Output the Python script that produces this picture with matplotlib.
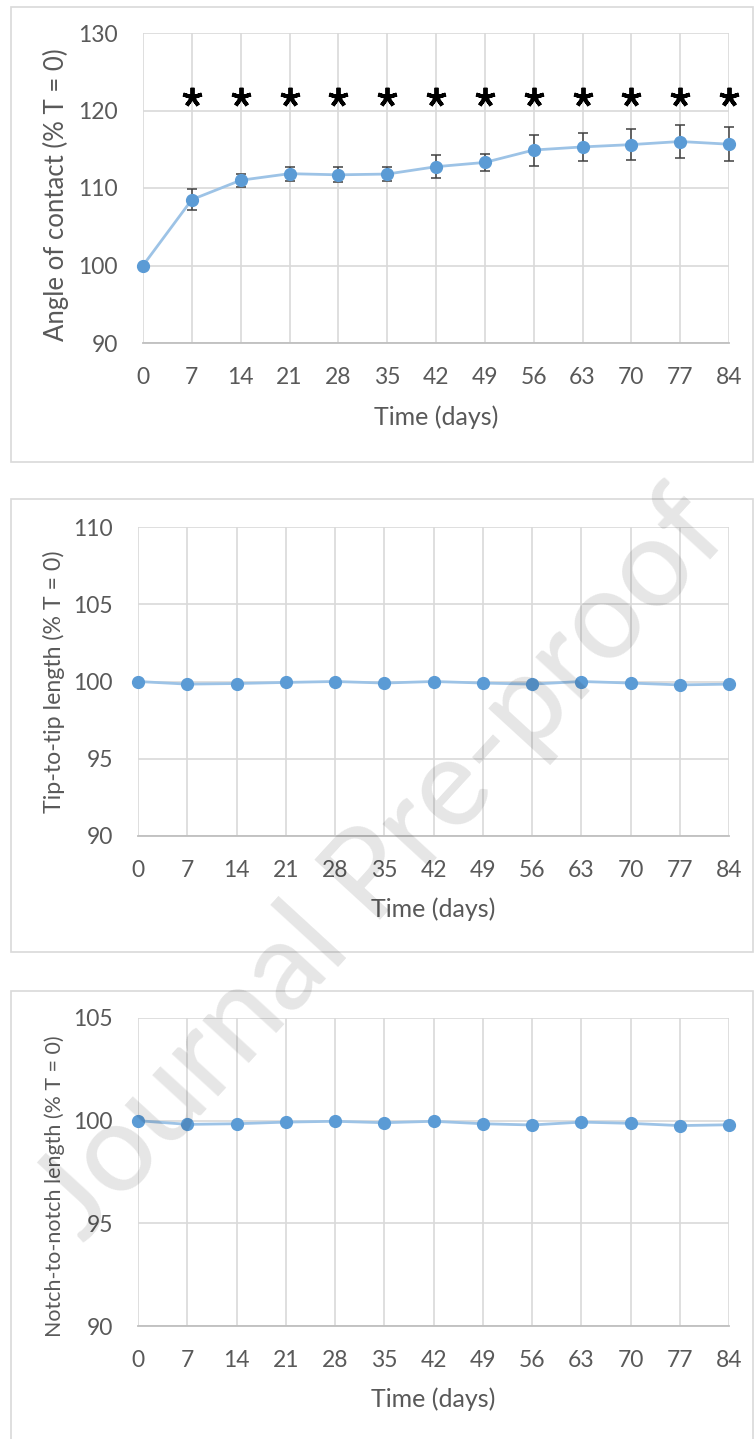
import matplotlib
matplotlib.use("Agg")
import matplotlib.pyplot as plt
from matplotlib.patches import Rectangle

plt.rcParams['font.family'] = ['Lato', 'DejaVu Sans']

days = [0, 7, 14, 21, 28, 35, 42, 49, 56, 63, 70, 77, 84]

angle = [100, 108.5, 111.0, 111.85, 111.7, 111.8, 112.75, 113.3, 114.9, 115.3, 115.6, 116.0, 115.65]
angle_err = [0, 1.35, 0.85, 0.9, 0.95, 0.9, 1.45, 1.15, 2.0, 1.85, 2.0, 2.1, 2.2]
signif_days = [7, 14, 21, 28, 35, 42, 49, 56, 63, 70, 77, 84]
signif_y = 121.8

tip = [100, 99.83, 99.87, 99.94, 100.0, 99.9, 100.0, 99.9, 99.83, 100.0, 99.9, 99.78, 99.83]
tip_err = [0, 0.05, 0.05, 0.05, 0.05, 0.05, 0.05, 0.05, 0.05, 0.05, 0.05, 0.05, 0.05]

notch = [100, 99.82, 99.85, 99.93, 99.97, 99.9, 99.97, 99.85, 99.79, 99.93, 99.87, 99.76, 99.8]
notch_err = [0, 0.08, 0.06, 0.06, 0.07, 0.06, 0.1, 0.06, 0.09, 0.08, 0.09, 0.06, 0.09]

W, H = 754, 1439
fig = plt.figure(figsize=(W / 100, H / 100), dpi=100)

TXT = '#595959'
GRID = '#d9d9d9'
LINE = '#9dc3e6'
MARK = '#5b9bd5'


def px_axes(left, top, right, bottom):
    return fig.add_axes([left / W, 1 - bottom / H, (right - left) / W, (bottom - top) / H])


def panel_box(top, bottom):
    fig.patches.append(Rectangle((11 / W, 1 - bottom / H), 742 / W, (bottom - top) / H,
                                 transform=fig.transFigure, fill=False,
                                 edgecolor=GRID, lw=1.2))


def style(ax, ylim, ystep, ylabel, ylsize, ylx, yly):
    ax.set_xlim(0, 84)
    ax.set_ylim(*ylim)
    ax.set_xticks(days)
    ax.set_yticks(range(ylim[0], ylim[1] + 1, ystep))
    ax.grid(True, color=GRID, lw=1.2)
    ax.set_axisbelow(True)
    for s in ['top', 'right', 'left']:
        ax.spines[s].set_visible(False)
    ax.spines['bottom'].set_color('#bfbfbf')
    ax.spines['bottom'].set_linewidth(1.3)
    ax.tick_params(length=0, labelsize=16.5, labelcolor=TXT)
    ax.tick_params(axis='x', pad=17)
    ax.tick_params(axis='y', pad=18)
    ax.set_xlabel('Time (days)', fontsize=18, color=TXT)
    ax.xaxis.set_label_coords(0.5, -0.20)
    ax.set_ylabel(ylabel, fontsize=ylsize, color=TXT)
    ax.yaxis.set_label_coords(ylx, yly)


def series(ax, y, err):
    ax.plot(days, y, color=LINE, lw=2, zorder=3, clip_on=False)
    ax.errorbar(days, y, yerr=err, fmt='none', ecolor='#404040', elinewidth=1.1,
                capsize=3.5, capthick=1.1, zorder=4, clip_on=False)
    ax.plot(days, y, 'o', color=MARK, ms=8.5, zorder=5, clip_on=False)


# contact angle
panel_box(7, 462)
ax1 = px_axes(143, 33, 729, 343)
style(ax1, (90, 130), 10, 'Angle of contact (% T = 0)', 18.5, -0.126, 0.477)
series(ax1, angle, angle_err)
ax1.plot(signif_days, [signif_y] * len(signif_days), ls='none', marker=(5, 2, 0),
         ms=14, mew=2.8, color='black', zorder=6, clip_on=False)

# tip-to-tip
panel_box(499, 952)
ax2 = px_axes(138, 527, 729, 836)
style(ax2, (90, 110), 5, 'Tip-to-tip length (% T = 0)', 16.7, -0.124, 0.5)
series(ax2, tip, tip_err)

# notch-to-notch
panel_box(991, 1450)
ax3 = px_axes(138, 1018, 729, 1326)
style(ax3, (90, 105), 5, 'Notch-to-notch length (% T = 0)', 15.4, -0.124, 0.455)
series(ax3, notch, notch_err)

fig.text(382 / W, 1 - 866 / H, 'Journal Pre-proof', rotation=47.5, fontsize=89,
         fontweight='medium', color='black', alpha=0.10, ha='center', va='center',
         rotation_mode='anchor', zorder=10)

fig.savefig('out.png', dpi=100, facecolor='white')
